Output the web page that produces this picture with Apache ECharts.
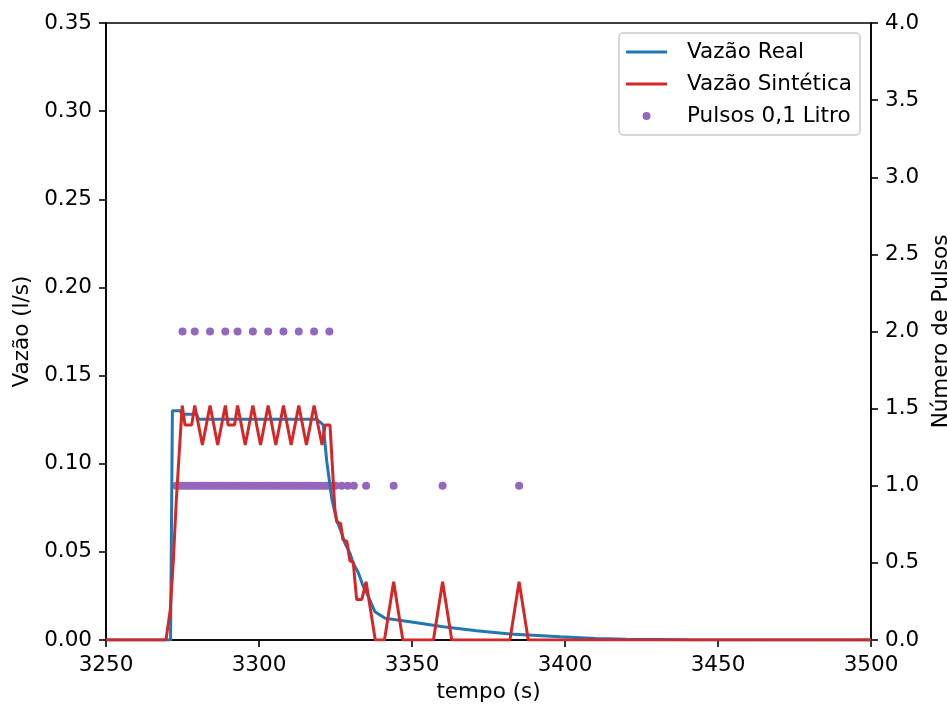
<!DOCTYPE html>
<html>
  <head>
    <meta charset="utf-8" />
    <title>Vazão</title>
    <script src="https://cdn.jsdelivr.net/npm/echarts@6/dist/echarts.min.js"></script>
  </head>
  <body style="margin:0">
    <div id="main" style="width:947px;height:704px"></div>
    <script type="text/javascript">
      // Vazão real (l/s)
      var realT = [3250, 3271.1, 3271.7, 3274.3, 3274.8, 3279.6, 3280.3, 3318.9, 3321, 3322.1, 3323.8,
                   3325.4, 3327, 3328.1, 3329.7, 3330.8, 3332.5, 3334.1, 3335.2, 3337.9, 3341.2,
                   3349.3, 3360.2, 3371.1, 3382, 3398.4, 3410, 3420, 3440, 3500];
      var realQ = [0, 0, 0.130, 0.130, 0.128, 0.128, 0.1252, 0.1252, 0.122, 0.102, 0.080,
                   0.068, 0.0607, 0.0549, 0.0493, 0.0435, 0.038, 0.0302, 0.0267, 0.016, 0.0123,
                   0.0104, 0.0075, 0.0053, 0.0034, 0.0019, 0.0009, 0.0004, 0.0001, 0];

      // Vazão sintética (l/s)
      var synT = [3250, 3269.6, 3271, 3272, 3273, 3274, 3274.9, 3275.8, 3278, 3279, 3281.5, 3284,
                  3286.5, 3289, 3289.9, 3292, 3293, 3295.5, 3298, 3300.5, 3303, 3305.5, 3308,
                  3310.5, 3313, 3315.5, 3318, 3320.6, 3321.6, 3323.2, 3324.8, 3325.4, 3326.7,
                  3327.4, 3328.7, 3329.7, 3330.8, 3331.9, 3333.6, 3335, 3338, 3341, 3344, 3347,
                  3357, 3360, 3363, 3382, 3385, 3388, 3500];
      var synQ = [0, 0, 0.017, 0.045, 0.08, 0.108, 0.133, 0.122, 0.122, 0.133, 0.1106, 0.133,
                  0.1106, 0.133, 0.122, 0.122, 0.133, 0.1106, 0.133, 0.1106, 0.133, 0.1106, 0.133,
                  0.1106, 0.133, 0.1106, 0.133, 0.1106, 0.122, 0.122, 0.074, 0.067, 0.066,
                  0.057, 0.056, 0.045, 0.044, 0.023, 0.023, 0.033, 0, 0, 0.033, 0,
                  0, 0.033, 0, 0, 0.033, 0, 0];

      // Pulsos de 0,1 litro por segundo
      var pulse1T = [3273, 3274, 3275, 3276, 3277, 3278, 3279, 3280, 3281, 3282, 3283, 3284,
                     3285, 3286, 3287, 3288, 3289, 3290, 3291, 3292, 3293, 3294, 3295, 3296,
                     3297, 3298, 3299, 3300, 3301, 3302, 3303, 3304, 3305, 3306, 3307, 3308,
                     3309, 3310, 3311, 3312, 3313, 3314, 3315, 3316, 3317, 3318, 3319, 3320,
                     3321, 3322, 3323, 3324, 3325, 3327, 3329, 3331, 3335, 3344, 3360, 3385];
      var pulse2T = [3275, 3279, 3284, 3289, 3293, 3298, 3303, 3308, 3313, 3318, 3323];

      function zip(xs, ys) {
        return xs.map(function (x, i) { return [x, ys[i]]; });
      }
      var pulseData = pulse1T.map(function (t) { return [t, 1]; })
        .concat(pulse2T.map(function (t) { return [t, 2]; }));

      var font = 'DejaVu Sans';
      var fs = 21.5;
      var lineIcon = 'path://M0,0 L41,0 L41,3 L0,3 Z';
      var axisCommon = {
        axisLine: { show: true, lineStyle: { color: '#000', width: 1.6 } },
        axisTick: { show: true, inside: false, length: 7, lineStyle: { color: '#000', width: 1.6 } },
        splitLine: { show: false },
        nameTextStyle: { color: '#000', fontFamily: font, fontSize: fs },
        nameLocation: 'middle'
      };

      var myChart = echarts.init(document.getElementById('main'));
      var option = {
        animation: false,
        backgroundColor: '#fff',
        textStyle: { fontFamily: font },
        grid: {
          left: 106, right: 76, top: 23, bottom: 64,
          show: true, borderColor: '#000', borderWidth: 1.6,
          containLabel: false,
          outerBoundsMode: 'none'
        },
        legend: {
          orient: 'vertical',
          right: 87,
          top: 33,
          padding: [8, 8, 8, 7],
          itemWidth: 41,
          itemHeight: 8,
          itemGap: 10,
          backgroundColor: 'rgba(255,255,255,0.8)',
          borderColor: '#cccccc',
          borderWidth: 1.5,
          borderRadius: 4,
          textStyle: { color: '#000', fontFamily: font, fontSize: fs, padding: [0, 0, 0, 15] },
          data: [
            { name: 'Vazão Real', icon: lineIcon },
            { name: 'Vazão Sintética', icon: lineIcon },
            { name: 'Pulsos 0,1 Litro', icon: 'circle' }
          ]
        },
        xAxis: Object.assign({}, axisCommon, {
          type: 'value',
          min: 3250, max: 3500, interval: 50,
          name: 'tempo (s)',
          nameGap: 41,
          axisLabel: {
            color: '#000', fontFamily: font, fontSize: fs, margin: 14,
            formatter: function (v) { return String(v); }
          }
        }),
        yAxis: [
          Object.assign({}, axisCommon, {
            type: 'value',
            position: 'left',
            min: 0, max: 0.35, interval: 0.05,
            name: 'Vazão (l/s)',
            nameGap: 68,
            nameRotate: 90,
            axisLabel: {
              color: '#000', fontFamily: font, fontSize: fs, margin: 14,
              formatter: function (v) { return v.toFixed(2); }
            }
          }),
          Object.assign({}, axisCommon, {
            type: 'value',
            position: 'right',
            min: 0, max: 4, interval: 0.5,
            name: 'Número de Pulsos',
            nameGap: 54,
            nameRotate: 90,
            axisLabel: {
              color: '#000', fontFamily: font, fontSize: fs, margin: 14,
              formatter: function (v) { return v.toFixed(1); }
            }
          })
        ],
        series: [
          {
            name: 'Vazão Real',
            type: 'line',
            data: zip(realT, realQ),
            symbol: 'none',
            color: '#1f77b4',
            lineStyle: { width: 3, color: '#1f77b4' },
            z: 3
          },
          {
            name: 'Vazão Sintética',
            type: 'line',
            data: zip(synT, synQ),
            symbol: 'none',
            color: '#d62728',
            lineStyle: { width: 3, color: '#d62728' },
            z: 4
          },
          {
            name: 'Pulsos 0,1 Litro',
            type: 'scatter',
            yAxisIndex: 1,
            data: pulseData,
            symbol: 'circle',
            symbolSize: 8,
            itemStyle: { color: '#9467bd', opacity: 1 },
            color: '#9467bd',
            z: 2
          }
        ]
      };
      myChart.setOption(option);
    </script>
  </body>
</html>
